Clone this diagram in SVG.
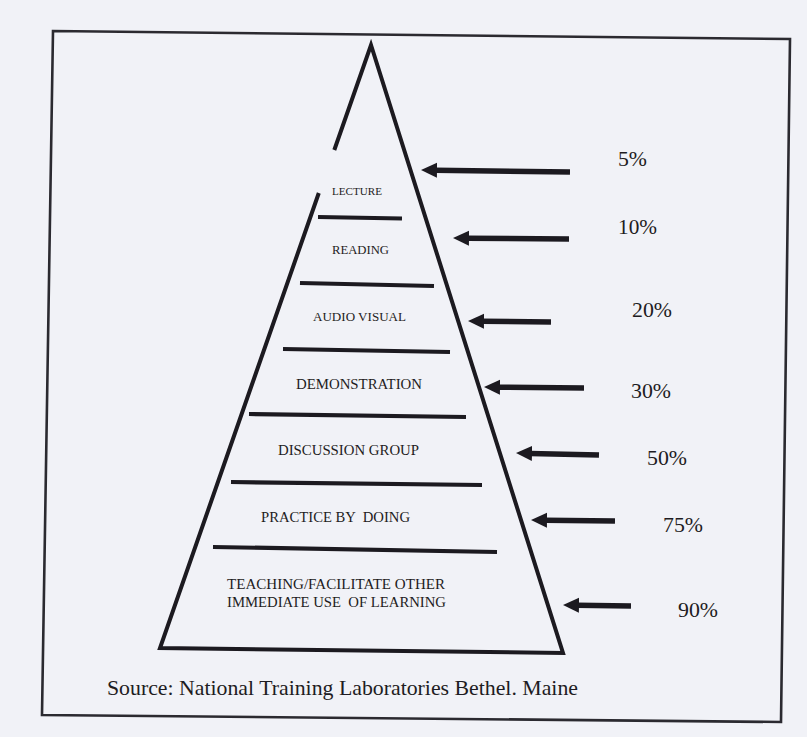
<svg xmlns="http://www.w3.org/2000/svg" width="807" height="737" viewBox="0 0 807 737">
  <style>
    .ink { stroke: #1c1a20; fill: none; }
    .frame { stroke: #2b2a30; stroke-width: 2.6; fill: none; stroke-linejoin: miter; }
    .edge { stroke-width: 4; stroke-linejoin: miter; stroke-linecap: butt; }
    .sep { stroke-width: 4.2; stroke-linecap: butt; }
    .arrow { stroke: #1c1a20; stroke-width: 5.5; stroke-linecap: butt; marker-end: url(#head); }
    .lbl { fill: #1e1c22; white-space: pre; }
    .pct { font-size: 21.5px; fill: #1e1c22; }
    .src { font-size: 22px; fill: #1e1c22; }
  </style>
  <defs>
    <marker id="head" markerUnits="userSpaceOnUse" viewBox="0 -8 17 16" refX="2" refY="0" markerWidth="17" markerHeight="16" orient="auto">
      <path d="M0,-7.5 L16,0 L0,7.5 Z" fill="#1c1a20"/>
    </marker>
  </defs>

  <!-- paper -->
  <rect x="0" y="0" width="807" height="737" fill="#f1f2f7"/>

  <!-- outer border -->
  <polygon class="frame" points="53,31 790,39 781,722 42,715"/>

  <!-- pyramid outline, left edge broken near the top -->
  <g id="pyramid">
    <path class="ink edge" d="M318.8,193 L160,648 L563,653 L371,45 L334.3,150"/>
  </g>

  <g font-family="'Liberation Serif', 'Times New Roman', 'DejaVu Serif', serif">
    <!-- levels: label and the rule beneath it -->
    <g id="lecture">
      <text class="lbl" x="357" y="195" font-size="11" text-anchor="middle" textLength="50" lengthAdjust="spacingAndGlyphs">LECTURE</text>
      <line class="ink sep" x1="318" y1="217" x2="402" y2="218.5"/>
    </g>
    <g id="reading">
      <text class="lbl" x="360.5" y="254" font-size="13" text-anchor="middle" textLength="57" lengthAdjust="spacingAndGlyphs">READING</text>
      <line class="ink sep" x1="300" y1="283" x2="434" y2="286"/>
    </g>
    <g id="audio-visual">
      <text class="lbl" x="359.5" y="321" font-size="13" text-anchor="middle" textLength="93" lengthAdjust="spacingAndGlyphs">AUDIO VISUAL</text>
      <line class="ink sep" x1="283" y1="349" x2="450" y2="352"/>
    </g>
    <g id="demonstration">
      <text class="lbl" x="359" y="389" font-size="14.3" text-anchor="middle" textLength="126" lengthAdjust="spacingAndGlyphs">DEMONSTRATION</text>
      <line class="ink sep" x1="249" y1="414" x2="466" y2="417"/>
    </g>
    <g id="discussion-group">
      <text class="lbl" x="348.5" y="455" font-size="14.6" text-anchor="middle" textLength="141" lengthAdjust="spacingAndGlyphs">DISCUSSION GROUP</text>
      <line class="ink sep" x1="231" y1="482" x2="482" y2="485"/>
    </g>
    <g id="practice-by-doing">
      <text class="lbl" x="335.5" y="522" font-size="14.6" text-anchor="middle" textLength="149" lengthAdjust="spacingAndGlyphs" xml:space="preserve">PRACTICE BY  DOING</text>
      <line class="ink sep" x1="213" y1="547" x2="497" y2="552"/>
    </g>
    <g id="teaching">
      <text class="lbl" x="227" y="589" font-size="14.6" textLength="218" lengthAdjust="spacingAndGlyphs">TEACHING/FACILITATE OTHER</text>
      <text class="lbl" x="227" y="607" font-size="14.6" textLength="219" lengthAdjust="spacingAndGlyphs" xml:space="preserve">IMMEDIATE USE  OF LEARNING</text>
    </g>

    <!-- retention rates -->
    <g id="rate-5"><text class="pct" x="618" y="166" textLength="29" lengthAdjust="spacingAndGlyphs">5%</text></g>
    <g id="rate-10"><text class="pct" x="618" y="234" textLength="39" lengthAdjust="spacingAndGlyphs">10%</text></g>
    <g id="rate-20"><text class="pct" x="632" y="317" textLength="40" lengthAdjust="spacingAndGlyphs">20%</text></g>
    <g id="rate-30"><text class="pct" x="631" y="398" textLength="40" lengthAdjust="spacingAndGlyphs">30%</text></g>
    <g id="rate-50"><text class="pct" x="647" y="465" textLength="40" lengthAdjust="spacingAndGlyphs">50%</text></g>
    <g id="rate-75"><text class="pct" x="663" y="532" textLength="40" lengthAdjust="spacingAndGlyphs">75%</text></g>
    <g id="rate-90"><text class="pct" x="678" y="617" textLength="40" lengthAdjust="spacingAndGlyphs">90%</text></g>

    <!-- citation -->
    <g id="source">
      <text class="src" x="107" y="694.5" textLength="471" lengthAdjust="spacingAndGlyphs">Source: National Training Laboratories Bethel. Maine</text>
    </g>
  </g>

  <!-- retention arrows pointing at the levels -->
  <g id="connectors">
    <line class="arrow" x1="570" y1="172" x2="435" y2="170.2"/>
    <line class="arrow" x1="569" y1="239" x2="467" y2="238.2"/>
    <line class="arrow" x1="551" y1="322" x2="482" y2="321.2"/>
    <line class="arrow" x1="584" y1="388" x2="498" y2="387.2"/>
    <line class="arrow" x1="599" y1="455" x2="530" y2="453.4"/>
    <line class="arrow" x1="615" y1="521" x2="545" y2="520.2"/>
    <line class="arrow" x1="631" y1="606" x2="577" y2="605.2"/>
  </g>
</svg>
